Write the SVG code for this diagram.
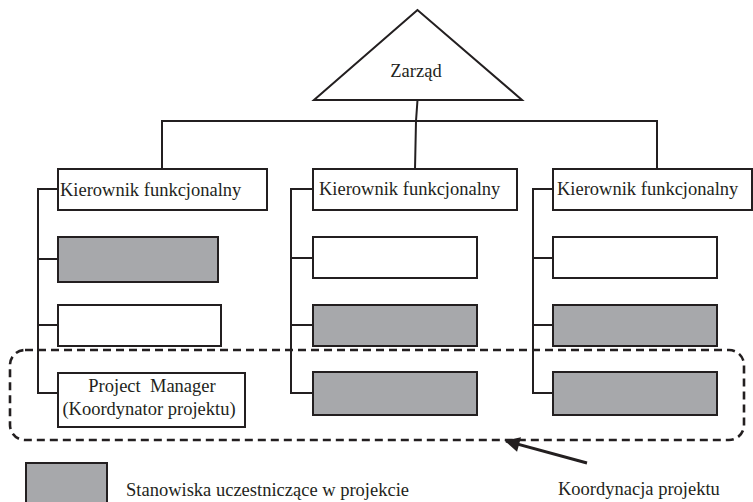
<svg xmlns="http://www.w3.org/2000/svg" width="753" height="502" viewBox="0 0 753 502">
  <style>
    .box { stroke: #231f20; stroke-width: 2; fill: #ffffff; }
    .grey { fill: #a7a8ab; }
    .ln { stroke: #231f20; stroke-width: 2; fill: none; }
    .dash { stroke: #231f20; stroke-width: 2.6; fill: none; stroke-dasharray: 8 5; }
    text { font-family: "Liberation Serif", "Times New Roman", serif; font-size: 18.5px; fill: #231f20; }
  </style>
  <defs>
    <marker id="head" viewBox="0 0 10 10" refX="9" refY="5" markerWidth="6" markerHeight="5" markerUnits="strokeWidth" orient="auto">
      <path d="M0,0 L10,5 L0,10 z" fill="#231f20"/>
    </marker>
  </defs>
  <rect width="753" height="502" fill="#ffffff"/>

  <!-- connectors -->
  <g id="connectors">
    <polyline class="ln" points="417.5,100 416,121 415,169"/>
    <polyline class="ln" points="162,169 162,121 657,121 657,169"/>
    <!-- left column spine -->
    <polyline class="ln" points="58,189 38,189 38,393 58,393"/>
    <line class="ln" x1="38" y1="259" x2="58" y2="259"/>
    <line class="ln" x1="38" y1="325" x2="58" y2="325"/>
    <!-- middle column spine -->
    <polyline class="ln" points="313,189 291,189 291,393 313,393"/>
    <line class="ln" x1="291" y1="258" x2="313" y2="258"/>
    <line class="ln" x1="291" y1="325" x2="313" y2="325"/>
    <!-- right column spine -->
    <polyline class="ln" points="553,189 533,189 533,393 553,393"/>
    <line class="ln" x1="533" y1="258" x2="553" y2="258"/>
    <line class="ln" x1="533" y1="325" x2="553" y2="325"/>
    <!-- project coordination arrow -->
    <line x1="587" y1="463" x2="506" y2="441" stroke="#231f20" stroke-width="3" marker-end="url(#head)"/>
  </g>

  <!-- board -->
  <g id="zarzad">
    <polygon class="box" points="417.5,10 314,100 522,100"/>
    <text x="416" y="77" text-anchor="middle">Zarząd</text>
  </g>

  <!-- left column -->
  <g id="kier-1">
    <rect class="box" x="58" y="169" width="209" height="41"/>
    <text x="60" y="196">Kierownik funkcjonalny</text>
  </g>
  <g id="poz-1-1"><rect class="box grey" x="58" y="237" width="160" height="45"/></g>
  <g id="poz-1-2"><rect class="box" x="58" y="305" width="163" height="41"/></g>
  <g id="pm">
    <rect class="box" x="58" y="373" width="187" height="54"/>
    <text x="152" y="392" text-anchor="middle" xml:space="preserve">Project  Manager</text>
    <text x="149" y="415" text-anchor="middle">(Koordynator projektu)</text>
  </g>

  <!-- middle column -->
  <g id="kier-2">
    <rect class="box" x="313" y="169" width="204" height="41"/>
    <text x="319" y="195">Kierownik funkcjonalny</text>
  </g>
  <g id="poz-2-1"><rect class="box" x="313" y="237" width="164" height="41"/></g>
  <g id="poz-2-2"><rect class="box grey" x="313" y="305" width="164" height="41"/></g>
  <g id="poz-2-3"><rect class="box grey" x="313" y="372" width="164" height="43"/></g>

  <!-- right column -->
  <g id="kier-3">
    <rect class="box" x="553" y="169" width="199" height="41"/>
    <text x="557" y="195">Kierownik funkcjonalny</text>
  </g>
  <g id="poz-3-1"><rect class="box" x="553" y="237" width="164" height="41"/></g>
  <g id="poz-3-2"><rect class="box grey" x="553" y="305" width="164" height="41"/></g>
  <g id="poz-3-3"><rect class="box grey" x="553" y="372" width="164" height="43"/></g>

  <!-- project coordination frame -->
  <g id="koordynacja">
    <rect class="dash" x="10" y="350" width="734" height="90" rx="15" ry="15"/>
  </g>

  <!-- legend -->
  <g id="legend">
    <rect class="box grey" x="26" y="463" width="81" height="45"/>
    <text x="126" y="496">Stanowiska uczestniczące w projekcie</text>
    <text x="558" y="495">Koordynacja projektu</text>
  </g>
</svg>
